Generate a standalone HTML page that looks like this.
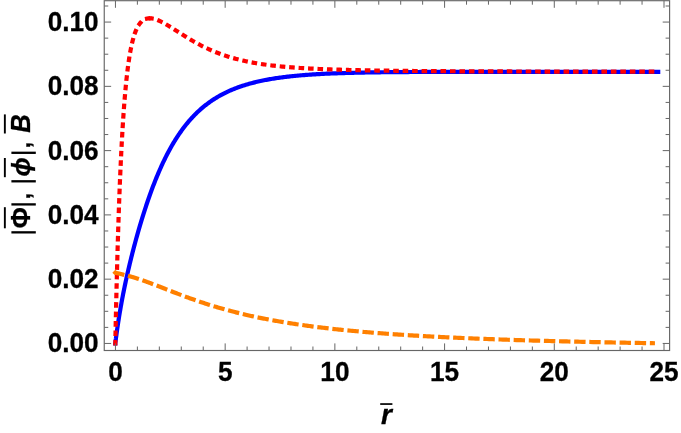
<!DOCTYPE html>
<html><head><meta charset="utf-8"><title>plot</title>
<style>
html,body{margin:0;padding:0;background:#fff;}
body{width:681px;height:433px;overflow:hidden;}
svg{display:block;will-change:transform;}
text{font-family:"Liberation Sans",sans-serif;font-weight:bold;font-size:28.0px;fill:#000;stroke:#000;stroke-width:0.3px;}
.it{font-style:italic;}
</style></head><body>
<svg width="681" height="433" viewBox="0 0 681 433">
<rect x="0" y="0" width="681" height="433" fill="#fff"/>
<g fill="none" stroke-width="4.2" stroke-linejoin="round" stroke-linecap="square">
<path d="M115.30 343.40 L115.30 343.39 L115.30 343.38 L115.31 343.34 L115.31 343.29 L115.32 343.23 L115.33 343.14 L115.35 343.04 L115.36 342.91 L115.38 342.77 L115.40 342.60 L115.42 342.42 L115.45 342.21 L115.48 341.98 L115.51 341.73 L115.54 341.46 L115.58 341.17 L115.62 340.86 L115.66 340.52 L115.71 340.16 L115.76 339.78 L115.81 339.38 L115.87 338.96 L115.92 338.51 L115.98 338.05 L116.05 337.56 L116.12 337.05 L116.19 336.52 L116.26 335.96 L116.34 335.39 L116.42 334.79 L116.50 334.18 L116.59 333.54 L116.68 332.89 L116.77 332.21 L116.87 331.52 L116.97 330.80 L117.07 330.07 L117.18 329.32 L117.29 328.54 L117.41 327.76 L117.52 326.95 L117.64 326.12 L117.77 325.28 L117.90 324.43 L118.03 323.55 L118.16 322.66 L118.30 321.75 L118.45 320.83 L118.59 319.90 L118.74 318.95 L118.89 317.98 L119.05 317.00 L119.21 316.01 L119.38 315.00 L119.54 313.98 L119.71 312.95 L119.89 311.90 L120.07 310.85 L120.25 309.78 L120.44 308.70 L120.63 307.60 L120.82 306.50 L121.02 305.39 L121.22 304.26 L121.43 303.13 L121.64 301.99 L121.85 300.83 L122.07 299.67 L122.29 298.49 L122.51 297.31 L122.74 296.12 L122.97 294.92 L123.21 293.71 L123.45 292.50 L123.70 291.27 L123.94 290.04 L124.20 288.80 L124.45 287.55 L124.71 286.29 L124.98 285.02 L125.24 283.75 L125.52 282.47 L125.79 281.18 L126.07 279.89 L126.36 278.59 L126.64 277.28 L126.94 275.96 L127.23 274.64 L127.53 273.31 L127.84 271.97 L128.15 270.63 L128.46 269.28 L128.78 267.92 L129.10 266.56 L129.42 265.19 L129.75 263.81 L130.08 262.43 L130.42 261.04 L130.76 259.65 L131.11 258.25 L131.46 256.84 L131.81 255.43 L132.17 254.01 L132.53 252.58 L132.90 251.15 L133.27 249.72 L133.65 248.28 L134.03 246.83 L134.41 245.38 L134.80 243.93 L135.19 242.47 L135.59 241.01 L135.99 239.54 L136.39 238.06 L136.80 236.59 L137.21 235.11 L137.63 233.62 L138.05 232.13 L138.48 230.64 L138.91 229.15 L139.35 227.65 L139.78 226.15 L140.23 224.65 L140.68 223.14 L141.13 221.64 L141.59 220.13 L142.05 218.62 L142.51 217.11 L142.98 215.60 L143.46 214.09 L143.93 212.57 L144.42 211.06 L144.91 209.55 L145.40 208.04 L145.89 206.53 L146.39 205.02 L146.90 203.51 L147.41 202.00 L147.92 200.50 L148.44 198.99 L148.97 197.49 L149.49 196.00 L150.02 194.50 L150.56 193.01 L151.10 191.52 L151.65 190.04 L152.20 188.56 L152.75 187.09 L153.31 185.62 L153.87 184.15 L154.44 182.70 L155.01 181.24 L155.59 179.80 L156.17 178.36 L156.76 176.92 L157.35 175.49 L157.95 174.07 L158.55 172.66 L159.15 171.25 L159.76 169.86 L160.37 168.47 L160.99 167.09 L161.61 165.71 L162.24 164.35 L162.87 162.99 L163.51 161.65 L164.15 160.31 L164.80 158.98 L165.45 157.66 L166.10 156.36 L166.76 155.06 L167.43 153.77 L168.10 152.49 L168.77 151.23 L169.45 149.97 L170.13 148.73 L170.82 147.49 L171.51 146.27 L172.21 145.06 L172.91 143.86 L173.62 142.67 L174.33 141.49 L175.04 140.33 L175.76 139.17 L176.49 138.03 L177.22 136.90 L177.95 135.78 L178.69 134.67 L179.44 133.58 L180.19 132.50 L180.94 131.43 L181.70 130.37 L182.46 129.33 L183.23 128.29 L184.00 127.27 L184.78 126.26 L185.56 125.27 L186.35 124.28 L187.14 123.31 L187.94 122.35 L188.74 121.41 L189.55 120.47 L190.36 119.55 L191.17 118.64 L191.99 117.74 L192.82 116.86 L193.65 115.98 L194.48 115.12 L195.32 114.27 L196.17 113.44 L197.02 112.61 L197.87 111.80 L198.73 111.00 L199.60 110.21 L200.47 109.43 L201.34 108.67 L202.22 107.91 L203.10 107.17 L203.99 106.44 L204.88 105.72 L205.78 105.01 L206.69 104.31 L207.59 103.62 L208.51 102.95 L209.42 102.28 L210.35 101.63 L211.27 100.99 L212.21 100.36 L213.14 99.74 L214.09 99.12 L215.03 98.52 L215.99 97.93 L216.94 97.35 L217.91 96.78 L218.87 96.22 L219.85 95.67 L220.82 95.13 L221.80 94.60 L222.79 94.08 L223.78 93.57 L224.78 93.07 L225.78 92.57 L226.79 92.09 L227.80 91.62 L228.82 91.15 L229.84 90.69 L230.87 90.24 L231.90 89.80 L232.94 89.37 L233.98 88.95 L235.02 88.53 L236.08 88.13 L237.13 87.73 L238.19 87.34 L239.26 86.95 L240.33 86.58 L241.41 86.21 L242.49 85.85 L243.58 85.50 L244.67 85.15 L245.77 84.81 L246.87 84.48 L247.98 84.16 L249.09 83.84 L250.21 83.53 L251.33 83.23 L252.46 82.93 L253.59 82.64 L254.73 82.35 L255.87 82.07 L257.02 81.80 L258.17 81.53 L259.33 81.27 L260.49 81.02 L261.66 80.77 L262.84 80.52 L264.01 80.29 L265.20 80.05 L266.39 79.83 L267.58 79.60 L268.78 79.39 L269.98 79.18 L271.19 78.97 L272.41 78.77 L273.63 78.57 L274.85 78.38 L276.08 78.19 L277.32 78.00 L278.56 77.83 L279.80 77.65 L281.05 77.48 L282.31 77.31 L283.57 77.15 L284.84 76.99 L286.11 76.84 L287.38 76.69 L288.67 76.54 L289.95 76.40 L291.24 76.26 L292.54 76.13 L293.84 75.99 L295.15 75.86 L296.46 75.74 L297.78 75.62 L299.11 75.50 L300.43 75.38 L301.77 75.27 L303.11 75.16 L304.45 75.05 L305.80 74.95 L307.15 74.85 L308.51 74.75 L309.88 74.66 L311.25 74.56 L312.62 74.47 L314.01 74.38 L315.39 74.30 L316.78 74.22 L318.18 74.14 L319.58 74.06 L320.99 73.98 L322.40 73.91 L323.82 73.84 L325.24 73.77 L326.67 73.70 L328.10 73.63 L329.54 73.57 L330.99 73.51 L332.43 73.45 L333.89 73.39 L335.35 73.33 L336.81 73.28 L338.29 73.23 L339.76 73.17 L341.24 73.12 L342.73 73.08 L344.22 73.03 L345.72 72.98 L347.22 72.94 L348.73 72.90 L350.24 72.86 L351.76 72.82 L353.28 72.78 L354.81 72.74 L356.35 72.71 L357.89 72.67 L359.43 72.64 L360.98 72.61 L362.54 72.57 L364.10 72.54 L365.67 72.51 L367.24 72.49 L368.81 72.46 L370.40 72.43 L371.99 72.41 L373.58 72.38 L375.18 72.36 L376.78 72.34 L378.39 72.31 L380.01 72.29 L381.63 72.27 L383.25 72.25 L384.88 72.23 L386.52 72.22 L388.16 72.20 L389.81 72.18 L391.46 72.16 L393.12 72.15 L394.78 72.13 L396.45 72.12 L398.13 72.11 L399.81 72.09 L401.49 72.08 L403.18 72.07 L404.88 72.06 L406.58 72.04 L408.29 72.03 L410.00 72.02 L411.72 72.01 L413.44 72.00 L415.17 71.99 L416.90 71.99 L418.64 71.98 L420.39 71.97 L422.14 71.96 L423.90 71.96 L425.66 71.95 L427.42 71.94 L429.20 71.94 L430.98 71.93 L432.76 71.92 L434.55 71.92 L436.34 71.91 L438.14 71.91 L439.95 71.90 L441.76 71.90 L443.57 71.90 L445.40 71.89 L447.22 71.89 L449.06 71.88 L450.90 71.88 L452.74 71.88 L454.59 71.87 L456.44 71.87 L458.30 71.87 L460.17 71.87 L462.04 71.86 L463.92 71.86 L465.80 71.86 L467.69 71.86 L469.58 71.86 L471.48 71.86 L473.39 71.85 L475.30 71.85 L477.21 71.85 L479.13 71.85 L481.06 71.85 L482.99 71.85 L484.93 71.85 L486.88 71.85 L488.82 71.85 L490.78 71.85 L492.74 71.84 L494.71 71.84 L496.68 71.84 L498.65 71.84 L500.64 71.84 L502.62 71.84 L504.62 71.84 L506.62 71.84 L508.62 71.84 L510.63 71.84 L512.65 71.84 L514.67 71.84 L516.70 71.84 L518.73 71.84 L520.77 71.84 L522.81 71.84 L524.86 71.84 L526.92 71.84 L528.98 71.84 L531.05 71.84 L533.12 71.85 L535.20 71.85 L537.28 71.85 L539.37 71.85 L541.46 71.85 L543.56 71.85 L545.67 71.85 L547.78 71.85 L549.90 71.85 L552.02 71.85 L554.15 71.85 L556.28 71.85 L558.42 71.85 L560.57 71.85 L562.72 71.85 L564.88 71.85 L567.04 71.85 L569.21 71.85 L571.38 71.85 L573.56 71.86 L575.74 71.86 L577.93 71.86 L580.13 71.86 L582.33 71.86 L584.54 71.86 L586.75 71.86 L588.97 71.86 L591.20 71.86 L593.43 71.86 L595.66 71.86 L597.91 71.86 L600.15 71.86 L602.41 71.86 L604.67 71.86 L606.93 71.86 L609.20 71.86 L611.48 71.87 L613.76 71.87 L616.05 71.87 L618.34 71.87 L620.64 71.87 L622.94 71.87 L625.25 71.87 L627.57 71.87 L629.89 71.87 L632.22 71.87 L634.55 71.87 L636.89 71.87 L639.24 71.87 L641.59 71.87 L643.94 71.87 L646.30 71.87 L648.67 71.87 L651.05 71.87 L653.42 71.87 L655.81 71.87 L658.20 71.87" stroke="#0000ff"/>
<path d="M115.30 343.40 L115.30 343.40 L115.30 343.39 L115.30 343.38 L115.30 343.36 L115.30 343.33 L115.30 343.30 L115.30 343.26 L115.30 343.21 L115.31 343.15 L115.31 343.08 L115.31 343.01 L115.31 342.93 L115.31 342.84 L115.31 342.74 L115.32 342.63 L115.32 342.51 L115.32 342.38 L115.32 342.25 L115.33 342.10 L115.33 341.95 L115.33 341.79 L115.34 341.61 L115.34 341.43 L115.34 341.24 L115.35 341.03 L115.35 340.82 L115.36 340.60 L115.36 340.37 L115.37 340.12 L115.37 339.87 L115.38 339.61 L115.38 339.34 L115.39 339.05 L115.40 338.76 L115.40 338.46 L115.41 338.15 L115.42 337.82 L115.42 337.49 L115.43 337.14 L115.44 336.79 L115.45 336.42 L115.45 336.05 L115.46 335.66 L115.47 335.27 L115.48 334.86 L115.49 334.44 L115.50 334.02 L115.51 333.58 L115.52 333.13 L115.53 332.67 L115.54 332.20 L115.55 331.72 L115.56 331.23 L115.57 330.73 L115.58 330.22 L115.59 329.70 L115.60 329.17 L115.61 328.62 L115.62 328.07 L115.64 327.51 L115.65 326.94 L115.66 326.35 L115.67 325.76 L115.69 325.16 L115.70 324.54 L115.71 323.92 L115.73 323.28 L115.74 322.64 L115.76 321.98 L115.77 321.32 L115.79 320.65 L115.80 319.96 L115.82 319.27 L115.83 318.56 L115.85 317.85 L115.87 317.13 L115.88 316.39 L115.90 315.65 L115.92 314.90 L115.93 314.13 L115.95 313.36 L115.97 312.58 L115.99 311.79 L116.01 310.99 L116.02 310.18 L116.04 309.37 L116.06 308.54 L116.08 307.70 L116.10 306.86 L116.12 306.00 L116.14 305.14 L116.16 304.27 L116.18 303.39 L116.20 302.50 L116.22 301.60 L116.25 300.69 L116.27 299.78 L116.29 298.86 L116.31 297.93 L116.34 296.99 L116.36 296.04 L116.38 295.08 L116.40 294.12 L116.43 293.15 L116.45 292.17 L116.48 291.19 L116.50 290.19 L116.53 289.19 L116.55 288.18 L116.58 287.16 L116.60 286.14 L116.63 285.11 L116.65 284.07 L116.68 283.03 L116.71 281.98 L116.73 280.92 L116.76 279.86 L116.79 278.78 L116.82 277.71 L116.85 276.62 L116.87 275.53 L116.90 274.44 L116.93 273.33 L116.96 272.23 L116.99 271.11 L117.02 269.99 L117.05 268.87 L117.08 267.74 L117.11 266.60 L117.14 265.46 L117.18 264.31 L117.21 263.16 L117.24 262.00 L117.27 260.84 L117.30 259.67 L117.34 258.50 L117.37 257.32 L117.40 256.14 L117.44 254.96 L117.47 253.77 L117.50 252.58 L117.54 251.38 L117.57 250.18 L117.61 248.97 L117.64 247.77 L117.68 246.55 L117.72 245.34 L117.75 244.12 L117.79 242.90 L117.83 241.67 L117.86 240.44 L117.90 239.21 L117.94 237.98 L117.98 236.74 L118.01 235.50 L118.05 234.26 L118.09 233.02 L118.13 231.77 L118.17 230.52 L118.21 229.27 L118.25 228.02 L118.29 226.76 L118.33 225.51 L118.37 224.25 L118.42 222.99 L118.46 221.73 L118.50 220.47 L118.54 219.20 L118.58 217.94 L118.63 216.67 L118.67 215.41 L118.71 214.14 L118.76 212.87 L118.80 211.61 L118.85 210.34 L118.89 209.07 L118.94 207.80 L118.98 206.53 L119.03 205.26 L119.07 203.99 L119.12 202.72 L119.17 201.46 L119.21 200.19 L119.26 198.92 L119.31 197.65 L119.35 196.39 L119.40 195.12 L119.45 193.86 L119.50 192.59 L119.55 191.33 L119.60 190.07 L119.65 188.81 L119.70 187.55 L119.75 186.29 L119.80 185.04 L119.85 183.79 L119.90 182.53 L119.95 181.28 L120.00 180.03 L120.06 178.79 L120.11 177.54 L120.16 176.30 L120.21 175.06 L120.27 173.82 L120.32 172.59 L120.38 171.36 L120.43 170.13 L120.49 168.90 L120.54 167.68 L120.60 166.46 L120.65 165.24 L120.71 164.02 L120.76 162.81 L120.82 161.60 L120.88 160.39 L120.93 159.19 L120.99 157.99 L121.05 156.80 L121.11 155.60 L121.17 154.42 L121.22 153.23 L121.28 152.05 L121.34 150.87 L121.40 149.70 L121.46 148.53 L121.52 147.37 L121.58 146.20 L121.65 145.05 L121.71 143.89 L121.77 142.75 L121.83 141.60 L121.89 140.46 L121.96 139.33 L122.02 138.20 L122.08 137.07 L122.15 135.95 L122.21 134.83 L122.27 133.72 L122.34 132.61 L122.40 131.51 L122.47 130.41 L122.53 129.32 L122.60 128.23 L122.67 127.15 L122.73 126.07 L122.80 125.00 L122.87 123.93 L122.94 122.87 L123.00 121.81 L123.07 120.76 L123.14 119.71 L123.21 118.67 L123.28 117.64 L123.35 116.61 L123.42 115.58 L123.49 114.56 L123.56 113.55 L123.63 112.54 L123.70 111.54 L123.77 110.54 L123.84 109.55 L123.92 108.57 L123.99 107.59 L124.06 106.61 L124.13 105.64 L124.21 104.68 L124.28 103.72 L124.36 102.77 L124.43 101.83 L124.50 100.89 L124.58 99.96 L124.66 99.03 L124.73 98.11 L124.81 97.19 L124.88 96.29 L124.96 95.38 L125.04 94.49 L125.12 93.59 L125.19 92.71 L125.27 91.83 L125.35 90.96 L125.43 90.09 L125.51 89.23 L125.59 88.38 L125.67 87.53 L125.75 86.68 L125.83 85.85 L125.91 85.02 L125.99 84.19 L126.07 83.38 L126.15 82.56 L126.24 81.76 L126.32 80.96 L126.40 80.17 L126.48 79.38 L126.57 78.60 L126.65 77.82 L126.74 77.05 L126.82 76.29 L126.91 75.53 L126.99 74.78 L127.08 74.04 L127.16 73.30 L127.25 72.57 L127.34 71.84 L127.42 71.12 L127.51 70.41 L127.60 69.70 L127.69 69.00 L127.77 68.30 L127.86 67.61 L127.95 66.93 L128.04 66.25 L128.13 65.58 L128.22 64.91 L128.31 64.25 L128.40 63.60 L128.49 62.95 L128.58 62.31 L128.68 61.67 L128.77 61.04 L128.86 60.42 L128.95 59.80 L129.05 59.19 L129.14 58.58 L129.23 57.98 L129.33 57.39 L129.42 56.80 L129.52 56.21 L129.61 55.64 L129.71 55.06 L129.81 54.50 L129.90 53.94 L130.00 53.38 L130.10 52.83 L130.19 52.29 L130.29 51.75 L130.39 51.22 L130.49 50.69 L130.59 50.17 L130.68 49.65 L130.78 49.14 L130.88 48.63 L130.98 48.13 L131.08 47.64 L131.18 47.15 L131.29 46.67 L131.39 46.19 L131.49 45.71 L131.59 45.25 L131.69 44.78 L131.80 44.32 L131.90 43.87 L132.00 43.42 L132.11 42.98 L132.21 42.54 L132.32 42.11 L132.42 41.69 L132.53 41.26 L132.63 40.85 L132.74 40.43 L132.85 40.03 L132.95 39.62 L133.06 39.23 L133.17 38.83 L133.28 38.45 L133.38 38.06 L133.49 37.68 L133.60 37.31 L133.71 36.94 L133.82 36.58 L133.93 36.22 L134.04 35.86 L134.15 35.51 L134.26 35.16 L134.37 34.82 L134.49 34.48 L134.60 34.15 L134.71 33.82 L134.82 33.50 L134.94 33.18 L135.05 32.86 L135.16 32.55 L135.28 32.25 L135.39 31.94 L135.51 31.65 L135.62 31.35 L135.74 31.06 L135.85 30.78 L135.97 30.49 L136.09 30.22 L136.20 29.94 L136.32 29.67 L136.44 29.41 L136.56 29.14 L136.68 28.89 L136.80 28.63 L136.92 28.38 L137.03 28.14 L137.15 27.89 L137.28 27.65 L137.40 27.42 L137.52 27.19 L137.64 26.96 L137.76 26.74 L137.88 26.52 L138.01 26.30 L138.13 26.09 L138.25 25.88 L138.38 25.67 L138.50 25.47 L138.62 25.27 L138.75 25.07 L138.87 24.88 L139.00 24.69 L139.12 24.50 L139.25 24.32 L139.38 24.14 L139.50 23.96 L139.63 23.79 L139.76 23.62 L139.89 23.46 L140.02 23.29 L140.14 23.13 L140.27 22.98 L140.40 22.82 L140.53 22.67 L140.66 22.52 L140.79 22.38 L140.92 22.24 L141.06 22.10 L141.19 21.96 L141.32 21.83 L141.45 21.70 L141.58 21.57 L141.72 21.44 L141.85 21.32 L141.98 21.20 L142.12 21.09 L142.25 20.97 L142.39 20.86 L142.52 20.76 L142.66 20.65 L142.80 20.55 L142.93 20.45 L143.07 20.35 L143.21 20.25 L143.34 20.16 L143.48 20.07 L143.62 19.98 L143.76 19.90 L143.90 19.82 L144.04 19.74 L144.18 19.66 L144.32 19.58 L144.46 19.51 L144.60 19.44 L144.74 19.37 L144.88 19.30 L145.02 19.24 L145.16 19.18 L145.31 19.12 L145.45 19.06 L145.59 19.01 L145.74 18.96 L145.88 18.91 L146.03 18.86 L146.17 18.81 L146.32 18.77 L146.46 18.73 L146.61 18.69 L146.76 18.65 L146.90 18.61 L147.05 18.58 L147.20 18.55 L147.34 18.52 L147.49 18.49 L147.64 18.47 L147.79 18.44 L147.94 18.42 L148.09 18.40 L148.24 18.38 L148.39 18.37 L148.54 18.35 L148.69 18.34 L148.84 18.33 L149.00 18.32 L149.15 18.31 L149.30 18.31 L149.45 18.31 L149.61 18.30 L149.76 18.30 L149.92 18.31 L150.07 18.31 L150.23 18.32 L150.38 18.32 L150.54 18.33 L150.69 18.34 L150.85 18.35" stroke="#ff0000" stroke-dasharray="1.4 8.065" stroke-dashoffset="0.1"/>
<path d="M150.85 18.35 L150.85 18.35 L150.85 18.35 L150.86 18.35 L150.86 18.35 L150.87 18.35 L150.88 18.36 L150.89 18.36 L150.91 18.36 L150.92 18.36 L150.94 18.36 L150.96 18.36 L150.99 18.37 L151.02 18.37 L151.05 18.37 L151.08 18.37 L151.11 18.38 L151.15 18.38 L151.19 18.38 L151.23 18.39 L151.28 18.39 L151.33 18.40 L151.38 18.41 L151.43 18.41 L151.49 18.42 L151.55 18.43 L151.61 18.43 L151.68 18.44 L151.75 18.45 L151.82 18.46 L151.90 18.47 L151.97 18.48 L152.05 18.50 L152.14 18.51 L152.23 18.52 L152.32 18.54 L152.41 18.55 L152.51 18.57 L152.61 18.59 L152.71 18.61 L152.82 18.63 L152.93 18.65 L153.04 18.68 L153.16 18.70 L153.28 18.73 L153.40 18.75 L153.53 18.78 L153.66 18.81 L153.79 18.85 L153.93 18.88 L154.07 18.91 L154.21 18.95 L154.36 18.99 L154.51 19.03 L154.66 19.08 L154.82 19.12 L154.98 19.17 L155.14 19.22 L155.31 19.27 L155.48 19.32 L155.65 19.38 L155.83 19.44 L156.01 19.50 L156.20 19.56 L156.38 19.63 L156.58 19.70 L156.77 19.77 L156.97 19.84 L157.17 19.92 L157.38 20.00 L157.59 20.08 L157.80 20.17 L158.02 20.26 L158.24 20.35 L158.47 20.44 L158.70 20.54 L158.93 20.64 L159.16 20.75 L159.40 20.85 L159.65 20.96 L159.89 21.08 L160.14 21.20 L160.40 21.32 L160.66 21.44 L160.92 21.57 L161.18 21.70 L161.45 21.83 L161.72 21.97 L162.00 22.11 L162.28 22.25 L162.57 22.40 L162.86 22.56 L163.15 22.71 L163.44 22.87 L163.74 23.03 L164.05 23.20 L164.35 23.37 L164.67 23.54 L164.98 23.72 L165.30 23.90 L165.62 24.09 L165.95 24.27 L166.28 24.47 L166.62 24.66 L166.95 24.86 L167.30 25.06 L167.64 25.27 L167.99 25.48 L168.35 25.69 L168.71 25.91 L169.07 26.13 L169.44 26.36 L169.81 26.59 L170.18 26.82 L170.56 27.05 L170.94 27.29 L171.33 27.53 L171.72 27.78 L172.11 28.03 L172.51 28.28 L172.91 28.53 L173.32 28.79 L173.73 29.05 L174.15 29.32 L174.56 29.58 L174.99 29.85 L175.41 30.13 L175.85 30.40 L176.28 30.68 L176.72 30.96 L177.16 31.25 L177.61 31.54 L178.06 31.83 L178.52 32.12 L178.98 32.41 L179.44 32.71 L179.91 33.01 L180.38 33.31 L180.86 33.62 L181.34 33.92 L181.82 34.23 L182.31 34.54 L182.80 34.85 L183.30 35.17 L183.80 35.48 L184.31 35.80 L184.82 36.12 L185.33 36.44 L185.85 36.76 L186.37 37.08 L186.90 37.41 L187.43 37.73 L187.96 38.06 L188.50 38.39 L189.05 38.71 L189.60 39.04 L190.15 39.37 L190.70 39.70 L191.26 40.03 L191.83 40.37 L192.40 40.70 L192.97 41.03 L193.55 41.36 L194.13 41.69 L194.72 42.03 L195.31 42.36 L195.90 42.69 L196.50 43.02 L197.11 43.36 L197.71 43.69 L198.33 44.02 L198.94 44.35 L199.56 44.68 L200.19 45.01 L200.82 45.34 L201.45 45.66 L202.09 45.99 L202.73 46.32 L203.38 46.64 L204.03 46.96 L204.69 47.28 L205.35 47.61 L206.01 47.92 L206.68 48.24 L207.35 48.56 L208.03 48.87 L208.71 49.19 L209.40 49.50 L210.09 49.81 L210.79 50.11 L211.49 50.42 L212.19 50.72 L212.90 51.03 L213.61 51.32 L214.33 51.62 L215.05 51.92 L215.78 52.21 L216.51 52.50 L217.25 52.79 L217.99 53.08 L218.73 53.36 L219.48 53.64 L220.23 53.92 L220.99 54.20 L221.75 54.47 L222.52 54.74 L223.29 55.01 L224.07 55.28 L224.85 55.54 L225.63 55.80 L226.42 56.06 L227.22 56.31 L228.02 56.57 L228.82 56.82 L229.63 57.06 L230.44 57.31 L231.26 57.55 L232.08 57.79 L232.90 58.02 L233.73 58.26 L234.57 58.49 L235.41 58.71 L236.25 58.94 L237.10 59.16 L237.95 59.38 L238.81 59.59 L239.67 59.81 L240.54 60.02 L241.41 60.22 L242.29 60.43 L243.17 60.63 L244.05 60.83 L244.94 61.02 L245.84 61.22 L246.74 61.41 L247.64 61.59 L248.55 61.78 L249.46 61.96 L250.38 62.14 L251.30 62.31 L252.23 62.49 L253.16 62.66 L254.10 62.83 L255.04 62.99 L255.98 63.16 L256.93 63.32 L257.89 63.47 L258.85 63.63 L259.81 63.78 L260.78 63.93 L261.76 64.08 L262.73 64.22 L263.72 64.36 L264.70 64.50 L265.70 64.64 L266.69 64.78 L267.70 64.91 L268.70 65.04 L269.71 65.17 L270.73 65.29 L271.75 65.42 L272.78 65.54 L273.81 65.66 L274.84 65.78 L275.88 65.89 L276.92 66.00 L277.97 66.11 L279.03 66.22 L280.09 66.33 L281.15 66.43 L282.22 66.54 L283.29 66.64 L284.37 66.74 L285.45 66.83 L286.54 66.93 L287.63 67.02 L288.73 67.11 L289.83 67.20 L290.93 67.29 L292.04 67.38 L293.16 67.46 L294.28 67.55 L295.41 67.63 L296.54 67.71 L297.67 67.79 L298.81 67.86 L299.95 67.94 L301.10 68.01 L302.26 68.08 L303.42 68.16 L304.58 68.23 L305.75 68.29 L306.92 68.36 L308.10 68.43 L309.28 68.49 L310.47 68.55 L311.67 68.61 L312.86 68.68 L314.07 68.73 L315.27 68.79 L316.49 68.85 L317.70 68.90 L318.92 68.96 L320.15 69.01 L321.38 69.07 L322.62 69.12 L323.86 69.17 L325.11 69.22 L326.36 69.27 L327.61 69.31 L328.88 69.36 L330.14 69.40 L331.41 69.45 L332.69 69.49 L333.97 69.54 L335.25 69.58 L336.54 69.62 L337.84 69.66 L339.14 69.70 L340.44 69.74 L341.75 69.78 L343.07 69.81 L344.39 69.85 L345.71 69.89 L347.04 69.92 L348.38 69.95 L349.72 69.99 L351.06 70.02 L352.41 70.05 L353.77 70.09 L355.13 70.12 L356.49 70.15 L357.86 70.18 L359.23 70.21 L360.61 70.24 L362.00 70.26 L363.39 70.29 L364.78 70.32 L366.18 70.34 L367.58 70.37 L368.99 70.40 L370.41 70.42 L371.83 70.45 L373.25 70.47 L374.68 70.49 L376.11 70.52 L377.55 70.54 L379.00 70.56 L380.44 70.58 L381.90 70.60 L383.36 70.63 L384.82 70.65 L386.29 70.67 L387.76 70.69 L389.24 70.71 L390.73 70.72 L392.22 70.74 L393.71 70.76 L395.21 70.78 L396.71 70.80 L398.22 70.81 L399.74 70.83 L401.26 70.85 L402.78 70.86 L404.31 70.88 L405.84 70.90 L407.38 70.91 L408.93 70.93 L410.48 70.94 L412.03 70.96 L413.59 70.97 L415.16 70.99 L416.73 71.00 L418.30 71.01 L419.88 71.03 L421.47 71.04 L423.06 71.05 L424.65 71.06 L426.25 71.08 L427.86 71.09 L429.47 71.10 L431.08 71.11 L432.71 71.12 L434.33 71.13 L435.96 71.15 L437.60 71.16 L439.24 71.17 L440.89 71.18 L442.54 71.19 L444.19 71.20 L445.85 71.21 L447.52 71.22 L449.19 71.23 L450.87 71.24 L452.55 71.24 L454.24 71.25 L455.93 71.26 L457.63 71.27 L459.33 71.28 L461.04 71.29 L462.75 71.30 L464.47 71.30 L466.19 71.31 L467.92 71.32 L469.66 71.33 L471.39 71.33 L473.14 71.34 L474.89 71.35 L476.64 71.36 L478.40 71.36 L480.16 71.37 L481.93 71.38 L483.71 71.38 L485.49 71.39 L487.27 71.39 L489.06 71.40 L490.86 71.41 L492.66 71.41 L494.47 71.42 L496.28 71.42 L498.09 71.43 L499.92 71.43 L501.74 71.44 L503.57 71.45 L505.41 71.45 L507.25 71.46 L509.10 71.46 L510.95 71.47 L512.81 71.47 L514.67 71.47 L516.54 71.48 L518.42 71.48 L520.30 71.49 L522.18 71.49 L524.07 71.50 L525.96 71.50 L527.86 71.50 L529.77 71.51 L531.68 71.51 L533.59 71.52 L535.51 71.52 L537.44 71.52 L539.37 71.53 L541.31 71.53 L543.25 71.53 L545.20 71.54 L547.15 71.54 L549.11 71.54 L551.07 71.55 L553.04 71.55 L555.01 71.55 L556.99 71.56 L558.97 71.56 L560.96 71.56 L562.96 71.56 L564.96 71.57 L566.96 71.57 L568.97 71.57 L570.99 71.57 L573.01 71.58 L575.03 71.58 L577.06 71.58 L579.10 71.58 L581.14 71.59 L583.19 71.59 L585.24 71.59 L587.30 71.59 L589.36 71.60 L591.43 71.60 L593.51 71.60 L595.59 71.60 L597.67 71.60 L599.76 71.61 L601.85 71.61 L603.95 71.61 L606.06 71.61 L608.17 71.61 L610.29 71.61 L612.41 71.62 L614.54 71.62 L616.67 71.62 L618.81 71.62 L620.95 71.62 L623.10 71.62 L625.25 71.63 L627.41 71.63 L629.58 71.63 L631.74 71.63 L633.92 71.63 L636.10 71.63 L638.29 71.63 L640.48 71.63 L642.67 71.64 L644.88 71.64 L647.08 71.64 L649.30 71.64 L651.51 71.64 L653.74 71.64 L655.97 71.64 L658.20 71.64" stroke="#ff0000" stroke-dasharray="1.4 8.065" stroke-dashoffset="0.6"/>
<path d="M115.30 272.75 L115.30 272.75 L115.30 272.75 L115.31 272.76 L115.31 272.76 L115.32 272.76 L115.33 272.76 L115.35 272.76 L115.36 272.77 L115.38 272.77 L115.40 272.78 L115.42 272.78 L115.45 272.79 L115.48 272.79 L115.51 272.80 L115.54 272.81 L115.58 272.82 L115.62 272.83 L115.66 272.83 L115.71 272.85 L115.75 272.86 L115.81 272.87 L115.86 272.88 L115.92 272.89 L115.98 272.91 L116.04 272.92 L116.11 272.94 L116.18 272.95 L116.25 272.97 L116.33 272.98 L116.41 273.00 L116.49 273.02 L116.58 273.04 L116.67 273.06 L116.76 273.08 L116.85 273.10 L116.95 273.12 L117.06 273.15 L117.16 273.17 L117.27 273.20 L117.39 273.22 L117.50 273.25 L117.62 273.27 L117.74 273.30 L117.87 273.33 L118.00 273.36 L118.14 273.39 L118.27 273.42 L118.41 273.45 L118.56 273.49 L118.71 273.52 L118.86 273.55 L119.01 273.59 L119.17 273.62 L119.34 273.66 L119.50 273.70 L119.67 273.74 L119.84 273.78 L120.02 273.82 L120.20 273.86 L120.39 273.90 L120.58 273.95 L120.77 273.99 L120.96 274.04 L121.16 274.08 L121.37 274.13 L121.57 274.18 L121.79 274.23 L122.00 274.28 L122.22 274.33 L122.44 274.39 L122.67 274.44 L122.90 274.50 L123.13 274.55 L123.37 274.61 L123.61 274.67 L123.86 274.73 L124.11 274.79 L124.36 274.85 L124.62 274.92 L124.88 274.98 L125.15 275.05 L125.42 275.12 L125.69 275.19 L125.97 275.26 L126.25 275.33 L126.53 275.41 L126.82 275.48 L127.12 275.56 L127.41 275.64 L127.71 275.72 L128.02 275.80 L128.33 275.88 L128.64 275.97 L128.96 276.05 L129.28 276.14 L129.61 276.23 L129.94 276.33 L130.27 276.42 L130.61 276.52 L130.95 276.61 L131.30 276.71 L131.65 276.81 L132.00 276.92 L132.36 277.02 L132.73 277.13 L133.09 277.24 L133.47 277.35 L133.84 277.46 L134.22 277.58 L134.60 277.70 L134.99 277.82 L135.39 277.94 L135.78 278.06 L136.18 278.19 L136.59 278.32 L137.00 278.45 L137.41 278.58 L137.83 278.72 L138.25 278.86 L138.68 279.00 L139.11 279.14 L139.54 279.28 L139.98 279.43 L140.43 279.58 L140.87 279.73 L141.33 279.89 L141.78 280.04 L142.24 280.20 L142.71 280.36 L143.18 280.53 L143.65 280.69 L144.13 280.86 L144.61 281.03 L145.10 281.21 L145.59 281.38 L146.09 281.56 L146.59 281.74 L147.09 281.93 L147.60 282.11 L148.12 282.30 L148.63 282.49 L149.16 282.69 L149.68 282.88 L150.21 283.08 L150.75 283.28 L151.29 283.48 L151.83 283.69 L152.38 283.90 L152.94 284.11 L153.49 284.32 L154.06 284.54 L154.62 284.75 L155.20 284.97 L155.77 285.19 L156.35 285.42 L156.94 285.64 L157.53 285.87 L158.12 286.10 L158.72 286.34 L159.32 286.57 L159.93 286.81 L160.54 287.05 L161.16 287.29 L161.78 287.53 L162.40 287.78 L163.03 288.02 L163.67 288.27 L164.31 288.52 L164.95 288.77 L165.60 289.03 L166.26 289.28 L166.91 289.54 L167.58 289.80 L168.24 290.06 L168.91 290.32 L169.59 290.59 L170.27 290.85 L170.96 291.12 L171.65 291.39 L172.34 291.66 L173.04 291.93 L173.75 292.21 L174.45 292.48 L175.17 292.75 L175.89 293.03 L176.61 293.31 L177.34 293.59 L178.07 293.87 L178.81 294.15 L179.55 294.43 L180.29 294.71 L181.04 295.00 L181.80 295.28 L182.56 295.56 L183.33 295.85 L184.10 296.14 L184.87 296.42 L185.65 296.71 L186.43 297.00 L187.22 297.29 L188.02 297.58 L188.81 297.87 L189.62 298.16 L190.42 298.45 L191.24 298.74 L192.05 299.03 L192.88 299.32 L193.70 299.61 L194.54 299.91 L195.37 300.20 L196.21 300.49 L197.06 300.78 L197.91 301.07 L198.77 301.37 L199.63 301.66 L200.49 301.95 L201.36 302.24 L202.24 302.53 L203.12 302.82 L204.00 303.11 L204.89 303.40 L205.78 303.69 L206.68 303.98 L207.59 304.27 L208.50 304.56 L209.41 304.85 L210.33 305.14 L211.25 305.42 L212.18 305.71 L213.11 306.00 L214.05 306.28 L214.99 306.57 L215.94 306.85 L216.90 307.13 L217.85 307.42 L218.82 307.70 L219.78 307.98 L220.75 308.26 L221.73 308.54 L222.71 308.82 L223.70 309.09 L224.69 309.37 L225.69 309.65 L226.69 309.92 L227.70 310.20 L228.71 310.47 L229.73 310.74 L230.75 311.01 L231.78 311.28 L232.81 311.55 L233.84 311.81 L234.89 312.08 L235.93 312.35 L236.98 312.61 L238.04 312.87 L239.10 313.13 L240.17 313.39 L241.24 313.65 L242.32 313.91 L243.40 314.17 L244.48 314.42 L245.57 314.68 L246.67 314.93 L247.77 315.18 L248.88 315.43 L249.99 315.68 L251.11 315.93 L252.23 316.18 L253.36 316.42 L254.49 316.66 L255.62 316.91 L256.77 317.15 L257.91 317.39 L259.06 317.63 L260.22 317.86 L261.38 318.10 L262.55 318.33 L263.72 318.57 L264.90 318.80 L266.08 319.03 L267.27 319.26 L268.46 319.48 L269.66 319.71 L270.86 319.93 L272.07 320.16 L273.28 320.38 L274.50 320.60 L275.72 320.82 L276.95 321.03 L278.18 321.25 L279.42 321.46 L280.66 321.68 L281.91 321.89 L283.17 322.10 L284.42 322.31 L285.69 322.52 L286.96 322.72 L288.23 322.93 L289.51 323.13 L290.79 323.33 L292.08 323.53 L293.38 323.73 L294.68 323.93 L295.98 324.13 L297.29 324.32 L298.61 324.51 L299.93 324.71 L301.26 324.90 L302.59 325.09 L303.92 325.27 L305.26 325.46 L306.61 325.65 L307.96 325.83 L309.32 326.01 L310.68 326.19 L312.05 326.37 L313.42 326.55 L314.80 326.73 L316.18 326.90 L317.57 327.08 L318.96 327.25 L320.36 327.42 L321.76 327.59 L323.17 327.76 L324.59 327.93 L326.01 328.10 L327.43 328.26 L328.86 328.43 L330.30 328.59 L331.74 328.75 L333.18 328.91 L334.63 329.07 L336.09 329.23 L337.55 329.38 L339.02 329.54 L340.49 329.69 L341.96 329.84 L343.45 329.99 L344.93 330.14 L346.43 330.29 L347.93 330.44 L349.43 330.59 L350.94 330.73 L352.45 330.88 L353.97 331.02 L355.50 331.16 L357.03 331.30 L358.56 331.44 L360.10 331.58 L361.65 331.72 L363.20 331.85 L364.75 331.99 L366.32 332.12 L367.88 332.25 L369.46 332.38 L371.03 332.51 L372.62 332.64 L374.20 332.77 L375.80 332.90 L377.40 333.02 L379.00 333.15 L380.61 333.27 L382.23 333.39 L383.85 333.52 L385.47 333.64 L387.10 333.76 L388.74 333.87 L390.38 333.99 L392.03 334.11 L393.68 334.22 L395.34 334.34 L397.00 334.45 L398.67 334.56 L400.35 334.67 L402.03 334.78 L403.71 334.89 L405.40 335.00 L407.10 335.11 L408.80 335.22 L410.50 335.32 L412.22 335.43 L413.93 335.53 L415.66 335.63 L417.38 335.74 L419.12 335.84 L420.86 335.94 L422.60 336.04 L424.35 336.14 L426.10 336.23 L427.86 336.33 L429.63 336.43 L431.40 336.52 L433.18 336.61 L434.96 336.71 L436.75 336.80 L438.54 336.89 L440.34 336.98 L442.14 337.07 L443.95 337.16 L445.77 337.25 L447.59 337.34 L449.41 337.43 L451.25 337.51 L453.08 337.60 L454.92 337.68 L456.77 337.77 L458.62 337.85 L460.48 337.93 L462.35 338.01 L464.22 338.10 L466.09 338.18 L467.97 338.26 L469.86 338.33 L471.75 338.41 L473.65 338.49 L475.55 338.57 L477.46 338.64 L479.37 338.72 L481.29 338.79 L483.21 338.87 L485.14 338.94 L487.08 339.02 L489.02 339.09 L490.97 339.16 L492.92 339.23 L494.88 339.30 L496.84 339.37 L498.81 339.44 L500.78 339.51 L502.76 339.58 L504.75 339.65 L506.74 339.71 L508.73 339.78 L510.73 339.85 L512.74 339.91 L514.76 339.98 L516.77 340.04 L518.80 340.11 L520.83 340.17 L522.86 340.23 L524.90 340.29 L526.95 340.36 L529.00 340.42 L531.06 340.48 L533.12 340.54 L535.19 340.60 L537.26 340.66 L539.34 340.72 L541.43 340.78 L543.52 340.83 L545.61 340.89 L547.72 340.95 L549.82 341.01 L551.94 341.06 L554.06 341.12 L556.18 341.17 L558.31 341.23 L560.45 341.28 L562.59 341.34 L564.73 341.39 L566.89 341.44 L569.04 341.50 L571.21 341.55 L573.38 341.60 L575.55 341.65 L577.73 341.71 L579.92 341.76 L582.11 341.81 L584.31 341.86 L586.51 341.91 L588.72 341.96 L590.93 342.01 L593.15 342.06 L595.38 342.11 L597.61 342.15 L599.84 342.20 L602.09 342.25 L604.33 342.30 L606.59 342.34 L608.85 342.39 L611.11 342.44 L613.38 342.48 L615.66 342.53 L617.94 342.58 L620.23 342.62 L622.52 342.67 L624.82 342.71 L627.12 342.76 L629.43 342.80 L631.75 342.84 L634.07 342.89 L636.40 342.93 L638.73 342.97 L641.07 343.02 L643.42 343.06 L645.77 343.10 L648.12 343.14 L650.48 343.19 L652.85 343.23" stroke="#ff8000" stroke-dasharray="7.2 7.940" stroke-dashoffset="0"/>
</g>
<g stroke="#666666" stroke-width="1" fill="none">
<line x1="115.45" x2="115.45" y1="350.5" y2="343.4"/>
<line x1="115.45" x2="115.45" y1="0.7" y2="7.8"/>
<line x1="137.39" x2="137.39" y1="350.5" y2="346.5"/>
<line x1="137.39" x2="137.39" y1="0.7" y2="4.7"/>
<line x1="159.33" x2="159.33" y1="350.5" y2="346.5"/>
<line x1="159.33" x2="159.33" y1="0.7" y2="4.7"/>
<line x1="181.28" x2="181.28" y1="350.5" y2="346.5"/>
<line x1="181.28" x2="181.28" y1="0.7" y2="4.7"/>
<line x1="203.22" x2="203.22" y1="350.5" y2="346.5"/>
<line x1="203.22" x2="203.22" y1="0.7" y2="4.7"/>
<line x1="225.16" x2="225.16" y1="350.5" y2="343.4"/>
<line x1="225.16" x2="225.16" y1="0.7" y2="7.8"/>
<line x1="247.10" x2="247.10" y1="350.5" y2="346.5"/>
<line x1="247.10" x2="247.10" y1="0.7" y2="4.7"/>
<line x1="269.04" x2="269.04" y1="350.5" y2="346.5"/>
<line x1="269.04" x2="269.04" y1="0.7" y2="4.7"/>
<line x1="290.99" x2="290.99" y1="350.5" y2="346.5"/>
<line x1="290.99" x2="290.99" y1="0.7" y2="4.7"/>
<line x1="312.93" x2="312.93" y1="350.5" y2="346.5"/>
<line x1="312.93" x2="312.93" y1="0.7" y2="4.7"/>
<line x1="334.87" x2="334.87" y1="350.5" y2="343.4"/>
<line x1="334.87" x2="334.87" y1="0.7" y2="7.8"/>
<line x1="356.81" x2="356.81" y1="350.5" y2="346.5"/>
<line x1="356.81" x2="356.81" y1="0.7" y2="4.7"/>
<line x1="378.75" x2="378.75" y1="350.5" y2="346.5"/>
<line x1="378.75" x2="378.75" y1="0.7" y2="4.7"/>
<line x1="400.70" x2="400.70" y1="350.5" y2="346.5"/>
<line x1="400.70" x2="400.70" y1="0.7" y2="4.7"/>
<line x1="422.64" x2="422.64" y1="350.5" y2="346.5"/>
<line x1="422.64" x2="422.64" y1="0.7" y2="4.7"/>
<line x1="444.58" x2="444.58" y1="350.5" y2="343.4"/>
<line x1="444.58" x2="444.58" y1="0.7" y2="7.8"/>
<line x1="466.52" x2="466.52" y1="350.5" y2="346.5"/>
<line x1="466.52" x2="466.52" y1="0.7" y2="4.7"/>
<line x1="488.46" x2="488.46" y1="350.5" y2="346.5"/>
<line x1="488.46" x2="488.46" y1="0.7" y2="4.7"/>
<line x1="510.41" x2="510.41" y1="350.5" y2="346.5"/>
<line x1="510.41" x2="510.41" y1="0.7" y2="4.7"/>
<line x1="532.35" x2="532.35" y1="350.5" y2="346.5"/>
<line x1="532.35" x2="532.35" y1="0.7" y2="4.7"/>
<line x1="554.29" x2="554.29" y1="350.5" y2="343.4"/>
<line x1="554.29" x2="554.29" y1="0.7" y2="7.8"/>
<line x1="576.23" x2="576.23" y1="350.5" y2="346.5"/>
<line x1="576.23" x2="576.23" y1="0.7" y2="4.7"/>
<line x1="598.17" x2="598.17" y1="350.5" y2="346.5"/>
<line x1="598.17" x2="598.17" y1="0.7" y2="4.7"/>
<line x1="620.12" x2="620.12" y1="350.5" y2="346.5"/>
<line x1="620.12" x2="620.12" y1="0.7" y2="4.7"/>
<line x1="642.06" x2="642.06" y1="350.5" y2="346.5"/>
<line x1="642.06" x2="642.06" y1="0.7" y2="4.7"/>
<line x1="664.00" x2="664.00" y1="350.5" y2="343.4"/>
<line x1="664.00" x2="664.00" y1="0.7" y2="7.8"/>
<line y1="343.45" y2="343.45" x1="104.25" x2="111.15"/>
<line y1="343.45" y2="343.45" x1="669.6" x2="662.7"/>
<line y1="327.38" y2="327.38" x1="104.25" x2="108.25"/>
<line y1="327.38" y2="327.38" x1="669.6" x2="665.6"/>
<line y1="311.31" y2="311.31" x1="104.25" x2="108.25"/>
<line y1="311.31" y2="311.31" x1="669.6" x2="665.6"/>
<line y1="295.24" y2="295.24" x1="104.25" x2="108.25"/>
<line y1="295.24" y2="295.24" x1="669.6" x2="665.6"/>
<line y1="279.17" y2="279.17" x1="104.25" x2="111.15"/>
<line y1="279.17" y2="279.17" x1="669.6" x2="662.7"/>
<line y1="263.10" y2="263.10" x1="104.25" x2="108.25"/>
<line y1="263.10" y2="263.10" x1="669.6" x2="665.6"/>
<line y1="247.04" y2="247.04" x1="104.25" x2="108.25"/>
<line y1="247.04" y2="247.04" x1="669.6" x2="665.6"/>
<line y1="230.97" y2="230.97" x1="104.25" x2="108.25"/>
<line y1="230.97" y2="230.97" x1="669.6" x2="665.6"/>
<line y1="214.90" y2="214.90" x1="104.25" x2="111.15"/>
<line y1="214.90" y2="214.90" x1="669.6" x2="662.7"/>
<line y1="198.83" y2="198.83" x1="104.25" x2="108.25"/>
<line y1="198.83" y2="198.83" x1="669.6" x2="665.6"/>
<line y1="182.76" y2="182.76" x1="104.25" x2="108.25"/>
<line y1="182.76" y2="182.76" x1="669.6" x2="665.6"/>
<line y1="166.69" y2="166.69" x1="104.25" x2="108.25"/>
<line y1="166.69" y2="166.69" x1="669.6" x2="665.6"/>
<line y1="150.62" y2="150.62" x1="104.25" x2="111.15"/>
<line y1="150.62" y2="150.62" x1="669.6" x2="662.7"/>
<line y1="134.55" y2="134.55" x1="104.25" x2="108.25"/>
<line y1="134.55" y2="134.55" x1="669.6" x2="665.6"/>
<line y1="118.48" y2="118.48" x1="104.25" x2="108.25"/>
<line y1="118.48" y2="118.48" x1="669.6" x2="665.6"/>
<line y1="102.41" y2="102.41" x1="104.25" x2="108.25"/>
<line y1="102.41" y2="102.41" x1="669.6" x2="665.6"/>
<line y1="86.35" y2="86.35" x1="104.25" x2="111.15"/>
<line y1="86.35" y2="86.35" x1="669.6" x2="662.7"/>
<line y1="70.28" y2="70.28" x1="104.25" x2="108.25"/>
<line y1="70.28" y2="70.28" x1="669.6" x2="665.6"/>
<line y1="54.21" y2="54.21" x1="104.25" x2="108.25"/>
<line y1="54.21" y2="54.21" x1="669.6" x2="665.6"/>
<line y1="38.14" y2="38.14" x1="104.25" x2="108.25"/>
<line y1="38.14" y2="38.14" x1="669.6" x2="665.6"/>
<line y1="22.07" y2="22.07" x1="104.25" x2="111.15"/>
<line y1="22.07" y2="22.07" x1="669.6" x2="662.7"/>
<line y1="6.00" y2="6.00" x1="104.25" x2="108.25"/>
<line y1="6.00" y2="6.00" x1="669.6" x2="665.6"/>
<rect x="104.25" y="0.7" width="565.35" height="349.80" stroke-width="1.15"/>
</g>
<g>
<text transform="translate(98.60 352.35) scale(0.935 1)" text-anchor="end">0.00</text>
<text transform="translate(98.60 288.07) scale(0.935 1)" text-anchor="end">0.02</text>
<text transform="translate(98.60 223.80) scale(0.935 1)" text-anchor="end">0.04</text>
<text transform="translate(98.60 159.52) scale(0.935 1)" text-anchor="end">0.06</text>
<text transform="translate(98.60 95.25) scale(0.935 1)" text-anchor="end">0.08</text>
<text transform="translate(98.60 30.97) scale(0.935 1)" text-anchor="end">0.10</text>

<text transform="translate(115.45 380.80) scale(0.935 1)" text-anchor="middle">0</text>
<text transform="translate(225.16 380.80) scale(0.935 1)" text-anchor="middle">5</text>
<text transform="translate(334.87 380.80) scale(0.935 1)" text-anchor="middle">10</text>
<text transform="translate(444.58 380.80) scale(0.935 1)" text-anchor="middle">15</text>
<text transform="translate(554.29 380.80) scale(0.935 1)" text-anchor="middle">20</text>
<text transform="translate(664.00 380.80) scale(0.935 1)" text-anchor="middle">25</text>

</g>
<!-- x label -->
<text class="it" x="381.0" y="424.0">r</text>
<rect x="380.2" y="403.2" width="12.2" height="1.7" fill="#000"/>
<!-- y label -->
<g transform="rotate(-90)" style="stroke:none">
<text transform="translate(-217.75 30.4) scale(0.930 1)" text-anchor="middle" style="font-size:27.40px">Φ</text>
<text transform="translate(-196.00 30.4) scale(0.930 1)" text-anchor="middle" style="font-size:23.29px">,</text>
<text transform="translate(-166.80 30.4) scale(1.000 1)" text-anchor="middle" style="font-size:25.48px" class="it">ϕ</text>
<text transform="translate(-144.90 30.4) scale(0.930 1)" text-anchor="middle" style="font-size:23.29px">,</text>
<text transform="translate(-123.60 30.4) scale(0.930 1)" text-anchor="middle" style="font-size:27.40px" class="it">B</text>
</g>
<g fill="#000">
<rect x="11.4" y="231.20" width="24.4" height="2.3"/>
<rect x="11.4" y="203.25" width="24.4" height="2.3"/>
<rect x="11.4" y="180.15" width="24.4" height="2.3"/>
<rect x="11.4" y="151.65" width="24.4" height="2.3"/>
<rect x="3.9" y="207.20" width="1.9" height="21.10"/>
<rect x="3.9" y="158.00" width="1.9" height="19.20"/>
<rect x="3.9" y="114.40" width="1.9" height="19.10"/>
</g>
</svg>
</body></html>
